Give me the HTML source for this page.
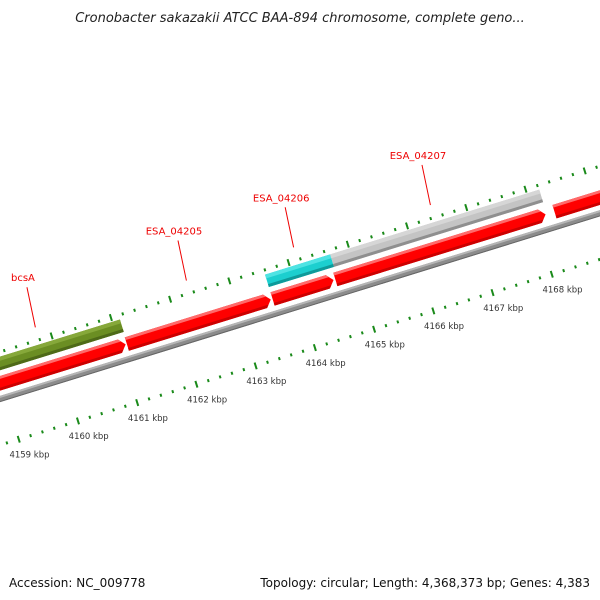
<!DOCTYPE html>
<html><head><meta charset="utf-8"><style>
body{margin:0;background:#fff;width:600px;height:600px;overflow:hidden}
svg{display:block}
text{font-family:"DejaVu Sans","Liberation Sans",sans-serif}
</style></head><body>
<svg id="map" width="600" height="600" viewBox="0 0 600 600">
<text x="300" y="22" text-anchor="middle" font-size="13" font-style="italic" fill="#222">Cronobacter sakazakii ATCC BAA-894 chromosome, complete geno...</text>
<text x="9" y="587" font-size="12" fill="#111">Accession: NC_009778</text>
<text x="590" y="587" text-anchor="end" font-size="12" fill="#111">Topology: circular; Length: 4,368,373 bp; Genes: 4,383</text>
<g id="track" transform="translate(0,399) rotate(-17.2)"></g>
<g id="labels"></g>
</svg>
<script>
const majorKbp = [4158,4159,4160,4161,4162,4163,4164,4165,4166,4167,4168,4169,4170];
const tickLabels = ["4159 kbp","4160 kbp","4161 kbp","4162 kbp","4163 kbp","4164 kbp","4165 kbp","4166 kbp","4167 kbp","4168 kbp"];
const tickLabelKbp = [4159,4160,4161,4162,4163,4164,4165,4166,4167,4168];
const cdsStart = [4157.0,4161.12,4163.58,4164.64,4168.34];
const cdsEnd   = [4161.10,4163.55,4164.61,4168.19,4171.0];
const geneNames = ["bcsA","ESA_04205","ESA_04206","ESA_04207"];
const geneStart = [4157.0,4163.58,4164.68];
const geneEnd   = [4161.13,4164.68,4168.21];
const geneKind  = ["green","cyan","grey"];
const labelKbp  = [4159.79,4162.34,4164.15,4166.46];

const NS="http://www.w3.org/2000/svg";
const TH=17.2*Math.PI/180, C=Math.cos(TH), S=Math.sin(TH);
const U0=68, PX=62, K0=4160;
function u(k){return U0+(k-K0)*PX;}
function scr(uu,v){return [uu*C+v*S, 399-uu*S+v*C];}
const track=document.getElementById('track');
const labels=document.getElementById('labels');
function mk(tag,attrs,parent){const e=document.createElementNS(NS,tag);for(const k in attrs)e.setAttribute(k,attrs[k]);(parent||track).appendChild(e);return e;}

// backbone
let bb=mk('rect',{x:-50,y:-3,width:800,height:6,fill:'#8c8c8c'});


mk('rect',{x:-50,y:-3,width:800,height:2,fill:'#b5b5b5'});
mk('rect',{x:-50,y:2,width:800,height:1,fill:'#666'});

// ticks
function ticks(v,name){
  for(let k=majorKbp[0];k<majorKbp[majorKbp.length-1];k+=0.2){
    const kk=Math.round(k*10)/10;
    const major=Math.abs(kk-Math.round(kk))<0.01;
    const h=major?7:3;
    const t=mk('rect',{x:u(kk)-1,y:v-h/2,width:2,height:h,fill:'#1a8a1a'});
    
    
  }
}
ticks(-45,'outer');
ticks(44,'inner');

// tick labels
tickLabelKbp.forEach((k,i)=>{
  const p=scr(u(k),60);
  const t=mk('text',{x:p[0]+6,y:p[1]+3,'text-anchor':'middle','font-size':'8.5',fill:'#333'},labels);
  t.textContent=tickLabels[i];
  
  
});

// CDS arrows
cdsStart.forEach((s,i)=>{
  const a=u(s), b=u(cdsEnd[i]), v=-15, h=7, hl=6;
  const g=mk('g',{});
  
  
  mk('polygon',{points:`${a},${v-h} ${b-hl},${v-h} ${b},${v} ${b-hl},${v+h} ${a},${v+h}`,fill:'#f00'},g);
  mk('polygon',{points:`${a},${v-h} ${b-hl},${v-h} ${b-hl*0.6},${v-h*0.6} ${a},${v-h*0.6}`,fill:'#ff6a6a'},g);
  mk('polygon',{points:`${a},${v+h*0.6} ${b-hl*0.6},${v+h*0.6} ${b-hl},${v+h} ${a},${v+h}`,fill:'#c00'},g);
});

// gene bars
const cols={green:['#6b8e23','#86a83a','#4e6a18'],cyan:['#1ccfcf','#4fe3e3','#0e9a9a'],grey:['#c4c4c4','#d6d6d6','#8f8f8f']};
geneStart.forEach((s,i)=>{
  const a=u(s), b=u(geneEnd[i]), v=-34, h=6.5, c=cols[geneKind[i]];
  const g=mk('g',{});
  
  
  mk('rect',{x:a,y:v-h,width:b-a,height:2*h,fill:c[0]},g);
  mk('rect',{x:a,y:v-h,width:b-a,height:4,fill:c[1]},g);
  mk('rect',{x:a,y:v+h-3,width:b-a,height:3,fill:c[2]},g);
});

// gene labels
geneNames.forEach((n,i)=>{
  const uu=u(labelKbp[i]);
  const p1=scr(uu,-58), p2=scr(uu,-100);
  const l=mk('line',{x1:p1[0],y1:p1[1],x2:p2[0]+4,y2:p2[1],stroke:'#e00','stroke-width':1},labels);
  
  
  const t=mk('text',{x:p2[0],y:p2[1]-6,'text-anchor':'middle','font-size':'10',fill:'#e00'},labels);
  t.textContent=n;
  
  
});
</script>
</body></html>
